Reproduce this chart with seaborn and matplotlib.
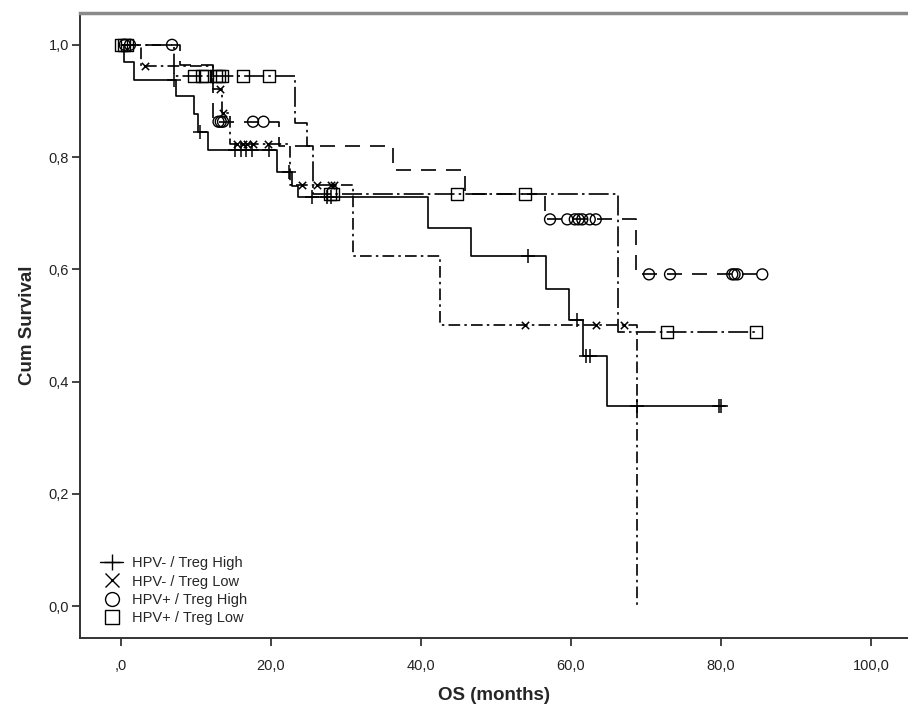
import numpy as np
import pandas as pd
import seaborn as sns
import matplotlib.pyplot as plt
from matplotlib.lines import Line2D

# Kaplan-Meier step curves (time in months, cumulative survival)
groups = ["HPV- / Treg High", "HPV- / Treg Low", "HPV+ / Treg High", "HPV+ / Treg Low"]

a_times = [0, 0.4, 1.7, 7.3, 9.7, 10.3, 11.6, 20.8, 22.8, 23.6, 40.9, 46.7, 56.7, 59.7, 61.6, 64.8, 80.0]
a_surv = [1.0, 0.970, 0.938, 0.909, 0.877, 0.845, 0.813, 0.773, 0.749, 0.728, 0.674, 0.623, 0.565, 0.509, 0.445, 0.356, 0.356]
a_cens = [7.0, 10.5, 15.2, 16.0, 16.6, 17.4, 19.7, 22.4, 25.5, 27.4, 28.0, 54.3, 60.8, 62.0, 62.5, 68.8, 79.7, 80.0]

b_times = [0, 2.7, 12.2, 13.4, 14.5, 22.5, 30.9, 42.5, 68.8]
b_surv = [1.0, 0.962, 0.921, 0.878, 0.823, 0.750, 0.623, 0.500, 0.0]
b_cens = [3.2, 13.2, 13.6, 15.5, 16.2, 16.8, 17.6, 19.6, 24.1, 26.1, 28.0, 28.4, 53.9, 63.3, 67.0]

c_times = [0, 7.9, 12.3, 21.0, 36.3, 45.9, 56.5, 68.7, 85.5]
c_surv = [1.0, 0.964, 0.863, 0.820, 0.777, 0.734, 0.689, 0.591, 0.591]
c_cens = [0.5, 1.2, 6.8, 13.0, 13.3, 13.6, 17.6, 19.0, 57.2, 59.5, 60.5, 61.0, 61.5, 62.5, 63.3,
          70.4, 73.2, 81.5, 81.8, 82.2, 85.5]

d_times = [0, 7.0, 23.2, 24.8, 25.6, 66.3, 84.7]
d_surv = [1.0, 0.945, 0.860, 0.820, 0.734, 0.489, 0.489]
d_cens = [0.0, 0.4, 0.8, 9.7, 10.8, 11.2, 12.7, 13.1, 13.5, 16.2, 19.7, 27.9, 28.3, 44.8, 53.9, 72.8, 84.7]

xticks = [0, 20, 40, 60, 80, 100]
xtick_labels = [",0", "20,0", "40,0", "60,0", "80,0", "100,0"]
yticks = [0.0, 0.2, 0.4, 0.6, 0.8, 1.0]
ytick_labels = ["0,0", "0,2", "0,4", "0,6", "0,8", "1,0"]

curves = [(a_times, a_surv, a_cens), (b_times, b_surv, b_cens),
          (c_times, c_surv, c_cens), (d_times, d_surv, d_cens)]

steps = pd.concat(
    [pd.DataFrame({"time": t, "surv": s, "group": g}) for g, (t, s, _) in zip(groups, curves)],
    ignore_index=True,
)


def surv_at(times, surv, c):
    idx = np.searchsorted(times, c, side="right") - 1
    return np.asarray(surv)[idx]


censored = pd.concat(
    [pd.DataFrame({"time": c, "surv": surv_at(t, s, c), "group": g})
     for g, (t, s, c) in zip(groups, curves)],
    ignore_index=True,
)

sns.set_style("ticks")
plt.rcParams["font.family"] = ["Liberation Sans", "DejaVu Sans"]

fig = plt.figure(figsize=(9.08, 7.05), dpi=100)
ax = fig.add_axes([0.0881, 0.095, 0.9119, 0.886])

line_styles = {
    groups[0]: "",
    groups[1]: (7, 2.5, 1.5, 2.5),
    groups[2]: (9, 6),
    groups[3]: (12, 2.5, 1.5, 2.5),
}
for g in groups:
    sub = steps[steps["group"] == g]
    sns.lineplot(data=sub, x="time", y="surv", ax=ax, color="black", lw=1.2,
                 estimator=None, sort=False, drawstyle="steps-post",
                 dashes=False, legend=False,
                 linestyle="-" if line_styles[g] == "" else (0, line_styles[g]))

marker_kw = {
    groups[0]: dict(marker="+", s=110, linewidths=1.1, color="black"),
    groups[1]: dict(marker="x", s=28, linewidths=1.1, color="black"),
    groups[2]: dict(marker="o", s=62, linewidths=1.0, facecolors="none", edgecolors="black"),
    groups[3]: dict(marker="s", s=75, linewidths=1.0, facecolors="none", edgecolors="black"),
}
for g in groups:
    sub = censored[censored["group"] == g]
    sns.scatterplot(data=sub, x="time", y="surv", ax=ax, legend=False, zorder=3, **marker_kw[g])

ax.set_xlim(-5.47, 104.93)
ax.set_ylim(-0.057, 1.056)
ax.set_xticks(xticks)
ax.set_xticklabels(xtick_labels)
ax.set_yticks(yticks)
ax.set_yticklabels(ytick_labels)
ax.tick_params(direction="out", length=6, width=1.2, colors="#222222", labelsize=10.5)
ax.tick_params(axis="x", pad=9)
ax.tick_params(axis="y", pad=2)

for side in ["left", "bottom"]:
    ax.spines[side].set_color("#333333")
    ax.spines[side].set_linewidth(1.4)
ax.spines["top"].set_color("#8a8a8a")
ax.spines["top"].set_linewidth(2.5)
ax.spines["right"].set_visible(False)

ax.set_xlabel("OS (months)", fontsize=13.5, fontweight="bold", labelpad=10)
ax.set_ylabel("Cum Survival", fontsize=13.5, fontweight="bold", labelpad=9)

handles = [
    Line2D([], [], color="black", lw=1.0, marker="+", markersize=12, markeredgewidth=1.0),
    Line2D([], [], color="black", lw=0, marker="x", markersize=10, markeredgewidth=1.0),
    Line2D([], [], color="black", lw=0, marker="o", markersize=10, markerfacecolor="none", markeredgewidth=1.0),
    Line2D([], [], color="black", lw=0, marker="s", markersize=10, markerfacecolor="none", markeredgewidth=1.0),
]
ax.legend(handles, groups, loc="lower left", bbox_to_anchor=(0.012, 0.005), frameon=False,
          fontsize=10.5, handlelength=1.6, handletextpad=0.6, labelspacing=0.28, borderaxespad=0.3)

fig.savefig("out.png", dpi=100, facecolor="white")
